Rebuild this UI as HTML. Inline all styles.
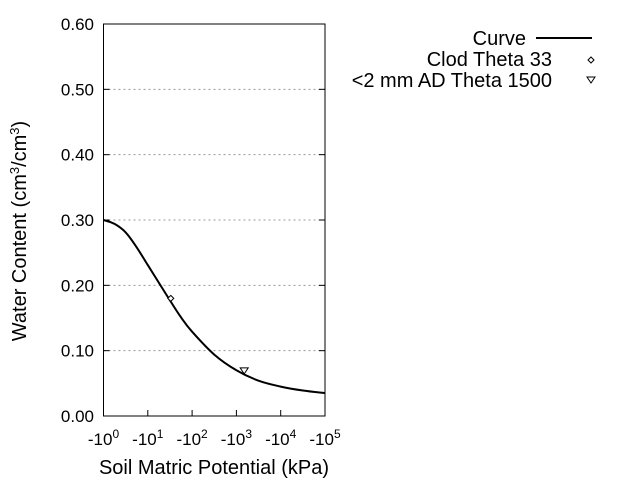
<!DOCTYPE html>
<html><head><meta charset="utf-8"><style>
body{margin:0;background:#fff}
svg{display:block;font-family:"Liberation Sans",sans-serif}
</style></head><body>
<svg width="640" height="480" id="chart">
<rect width="640" height="480" fill="#fff"/>
<g id="grid"></g><g id="axes"></g><g id="marks"></g>
<text x="214" y="474" font-size="20" text-anchor="middle">Soil Matric Potential (kPa)</text>
<text transform="translate(26,231) rotate(-90)" font-size="20" text-anchor="middle">Water Content (cm<tspan dy="-7" font-size="13">3</tspan><tspan dy="7">/cm</tspan><tspan dy="-7" font-size="13">3</tspan><tspan dy="7">)</tspan></text>
<g font-size="20">
<text x="526" y="45" text-anchor="end">Curve</text>
<line x1="536" y1="38" x2="592" y2="38" stroke="#000" stroke-width="2"/>
<text x="552" y="66" text-anchor="end">Clod Theta 33</text>
<path d="M591,57 L594,60 L591,63 L588,60 Z" fill="none" stroke="#000" stroke-width="1"/>
<text x="552" y="87" text-anchor="end">&lt;2 mm AD Theta 1500</text>
<path d="M587,77 L595,77 L591,83 Z" fill="none" stroke="#000" stroke-width="1"/>
</g>
</svg>
<script>
const curveLogX=[0,0.25,0.5,0.75,1,1.25,1.5,1.75,2,2.5,3,3.5,4,4.5,5];
const curveTheta=[0.300,0.294,0.281,0.258,0.231,0.204,0.177,0.151,0.129,0.094,0.070,0.054,0.045,0.039,0.035];
const clodPoint=[33,0.18];
const adPoint=[1500,0.069];
const yTicks=[0,0.1,0.2,0.3,0.4,0.5,0.6];
const xTickExp=[0,1,2,3,4,5];
const L=103.5,R=325,T=24,B=416;
const sx=lg=>L+(lg/5)*(R-L);
const sy=v=>B-(v/0.6)*(B-T);
const NS="http://www.w3.org/2000/svg";
function mk(parent,tag,attrs){const e=document.createElementNS(NS,tag);for(const k in attrs)e.setAttribute(k,attrs[k]);document.getElementById(parent).appendChild(e);return e;}
yTicks.forEach(v=>{
  const y=sy(v);
  if(v>0){const g=mk('grid','line',{x1:L,x2:R,y1:y,y2:y,stroke:'#999','stroke-dasharray':'2,3'});
  
  }
  mk('axes','line',{x1:L,x2:L+6,y1:y,y2:y,stroke:'#000'});
  mk('axes','line',{x1:R-6,x2:R,y1:y,y2:y,stroke:'#000'});
  const t=mk('axes','text',{x:94,y:y+6,'font-size':17,'text-anchor':'end'});
  t.textContent=v.toFixed(2);
  
  
});
xTickExp.forEach(e=>{
  const x=sx(e);
  mk('axes','line',{x1:x,x2:x,y1:B-6,y2:B,stroke:'#000'});
  const t=mk('axes','text',{x:x,y:445,'font-size':17,'text-anchor':'middle'});
  t.innerHTML='-10<tspan dy="-7" font-size="12">'+e+'</tspan>';
  
  
});
const box=mk('axes','rect',{x:L,y:T,width:R-L,height:B-T,fill:'none',stroke:'#000'});


const pts=curveLogX.map((lx,i)=>[sx(lx),sy(curveTheta[i])]);
let d='M'+pts[0][0]+','+pts[0][1];
for(let i=0;i<pts.length-1;i++){
  const p0=pts[i-1]||pts[i],p1=pts[i],p2=pts[i+1],p3=pts[i+2]||p2;
  d+=' C'+(p1[0]+(p2[0]-p0[0])/6)+','+(p1[1]+(p2[1]-p0[1])/6)+' '+(p2[0]-(p3[0]-p1[0])/6)+','+(p2[1]-(p3[1]-p1[1])/6)+' '+p2[0]+','+p2[1];
}
const c=mk('marks','path',{d:d,fill:'none',stroke:'#000','stroke-width':2});


let cx=sx(Math.log10(clodPoint[0])),cy=sy(clodPoint[1]);
const m1=mk('marks','path',{d:`M${cx},${cy-3} L${cx+3},${cy} L${cx},${cy+3} L${cx-3},${cy} Z`,fill:'#fff',stroke:'#000'});


cx=sx(Math.log10(adPoint[0]));cy=sy(adPoint[1]);
const m2=mk('marks','path',{d:`M${cx-4},${cy-3} L${cx+4},${cy-3} L${cx},${cy+3} Z`,fill:'#fff',stroke:'#000'});


</script>
</body></html>
